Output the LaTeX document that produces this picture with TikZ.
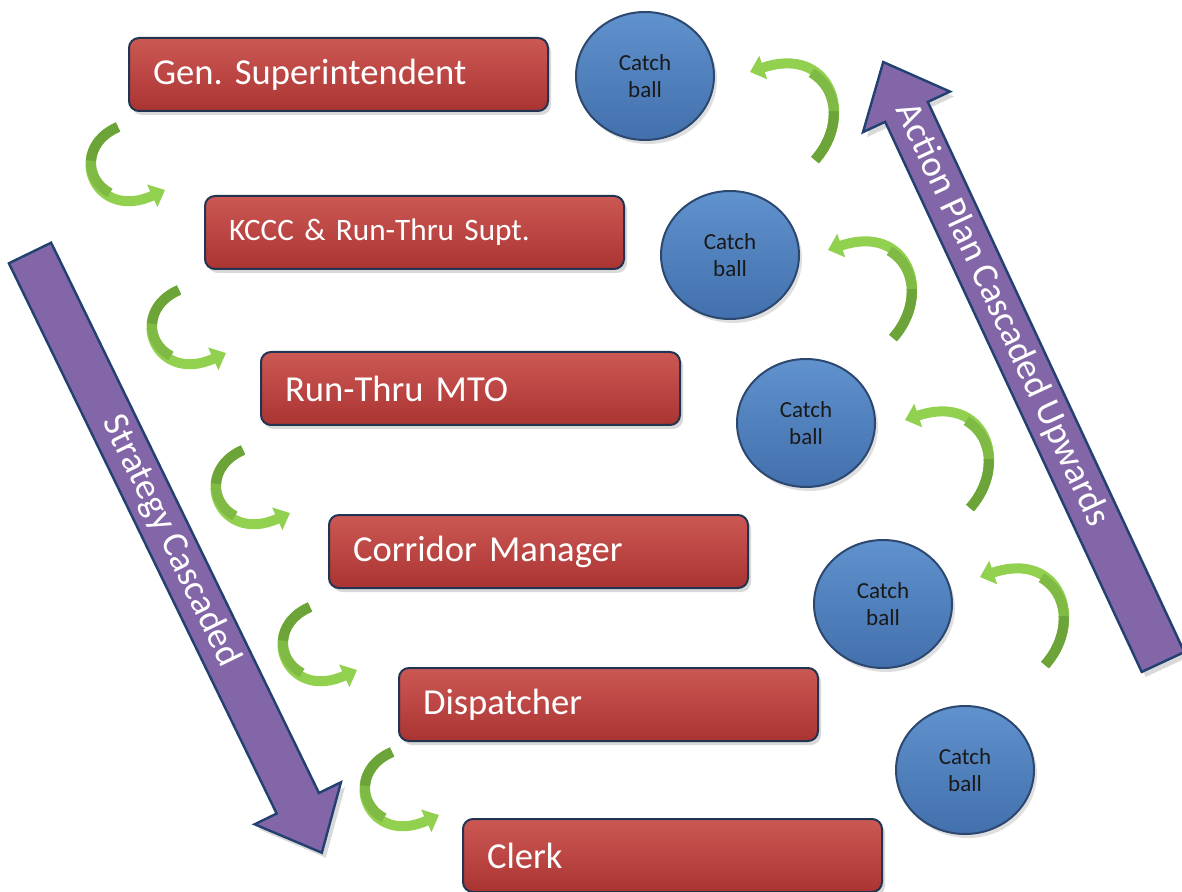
\documentclass[tikz,border=0pt]{standalone}
\usepackage{fontspec}
\setmainfont{Carlito}
\usetikzlibrary{shapes.geometric,arrows.meta,shadows,calc}
\definecolor{redtop}{RGB}{204,88,84}
\definecolor{redbot}{RGB}{170,52,50}
\definecolor{boxborder}{RGB}{34,52,82}
\definecolor{balltop}{RGB}{96,146,206}
\definecolor{ballbot}{RGB}{66,112,172}
\definecolor{ballborder}{RGB}{44,72,112}
\definecolor{purp}{RGB}{130,102,168}
\definecolor{purpborder}{RGB}{34,64,112}
\definecolor{gdarkc}{RGB}{108,164,58}
\definecolor{gmidc}{RGB}{127,186,68}
\definecolor{glightc}{RGB}{146,208,80}
\frenchspacing
\begin{document}
\begin{tikzpicture}[x=0.5pt,y=-0.5pt,
  rolebox/.style={draw=boxborder, line width=1pt, rounded corners=5pt,
    top color=redtop, bottom color=redbot,
    minimum width=209.5pt, minimum height=36.5pt, text width=185.5pt,
    inner xsep=12pt, inner ysep=0pt, align=left, anchor=north west, text=white,
    font=\fontsize{18.3}{22}\selectfont,
    drop shadow={shadow xshift=1.5pt, shadow yshift=-2pt, opacity=0.3}},
  ballnode/.style={ellipse, draw=ballborder, line width=1pt,
    top color=balltop, bottom color=ballbot,
    minimum width=69pt, minimum height=64pt, inner sep=0pt, align=center,
    text=black!90, font=\fontsize{11.5}{13.5}\selectfont,
    drop shadow={shadow xshift=1.5pt, shadow yshift=-2pt, opacity=0.25}},
  bigarrow/.style={fill=purp, draw=purpborder, line width=1.2pt, line join=miter,
    drop shadow={shadow xshift=2pt, shadow yshift=-2.5pt, opacity=0.3}},
  bigtext/.style={text=white, font=\fontsize{18.5}{22}\selectfont, inner sep=0pt},
  glight/.style={draw=glightc, line width=5pt, -{Triangle[width=12pt,length=7pt]}},
  gmid/.style={draw=gmidc, line width=5pt},
  gdark/.style={draw=gdarkc, line width=5pt}
]
\useasboundingbox (0,0) rectangle (1182,892);

% big purple arrows
\begin{scope}[shift={(30,253)}, rotate=-64.05]
  \draw[bigarrow] (0,-23.5) -- (612,-23.5) -- (612,-48) -- (667,0) -- (612,48) -- (612,23.5) -- (0,23.5) -- cycle;
\end{scope}
\begin{scope}[shift={(1163,662)}, rotate=115]
  \draw[bigarrow] (0,-23.5) -- (607,-23.5) -- (607,-48) -- (662,0) -- (607,48) -- (607,23.5) -- (0,23.5) -- cycle;
\end{scope}
\node[bigtext, rotate=-64.05] (sc) at (171,541) {Strategy Cascaded};
\node[bigtext, rotate=-65] (ap) at (1002,315) {Action Plan Cascaded Upwards};

% role boxes
\node[rolebox] (b1) at (128,37) {Gen. Superintendent};
\node[rolebox, font=\fontsize{15.6}{19}\selectfont] (b2) at (204,195) {KCCC \& Run-Thru Supt.};
\node[rolebox] (b3) at (260,351) {Run-Thru MTO};
\node[rolebox] (b4) at (328,514) {Corridor Manager};
\node[rolebox] (b5) at (398,667) {Dispatcher};
\node[rolebox] (b6) at (462,818) {Clerk};

% catch ball circles
\node[ballnode] (c1) at (645,76) {Catch\\ball};
\node[ballnode] (c2) at (730,255) {Catch\\ball};
\node[ballnode] (c3) at (806,423) {Catch\\ball};
\node[ballnode] (c4) at (883,604) {Catch\\ball};
\node[ballnode] (c5) at (965,770) {Catch\\ball};

% left green curved arrows (downwards)
\foreach \n/\x/\y in {1/118/127, 2/179/290, 3/243/450, 4/310/607, 5/392/752} {
  \coordinate (lt\n) at (\x,\y);
  \coordinate (lh\n) at (\x+47,\y+63);
  \draw[glight] (lt\n) .. controls ($(lt\n)+(-53,23)$) and ($(lt\n)+(-23,95)$) .. (lh\n);
  \draw[gmid] (lt\n) .. controls ($(lt\n)+(-35.33,15.33)$) and ($(lt\n)+(-33.78,52.44)$) .. ($(lt\n)+(-8.07,66)$);
  \draw[gdark] (lt\n) .. controls ($(lt\n)+(-17.67,7.67)$) and ($(lt\n)+(-26.11,20.78)$) .. ($(lt\n)+(-26.93,33.67)$);
}

% right green curved arrows (upwards)
\foreach \n/\x/\y in {1/815/160, 2/893/338, 3/970/508, 4/1045/665} {
  \coordinate (rt\n) at (\x,\y);
  \coordinate (rh\n) at (\x-65,\y-88);
  \draw[glight] (rt\n) .. controls ($(rt\n)+(40,-45)$) and ($(rt\n)+(15,-115)$) .. (rh\n);
  \draw[gmid] (rt\n) .. controls ($(rt\n)+(26.67,-30)$) and ($(rt\n)+(24.44,-71.11)$) .. ($(rt\n)+(-3.7,-87.19)$);
  \draw[gdark] (rt\n) .. controls ($(rt\n)+(13.33,-15)$) and ($(rt\n)+(19.44,-32.78)$) .. ($(rt\n)+(18.7,-48.81)$);
}
\end{tikzpicture}
\end{document}
